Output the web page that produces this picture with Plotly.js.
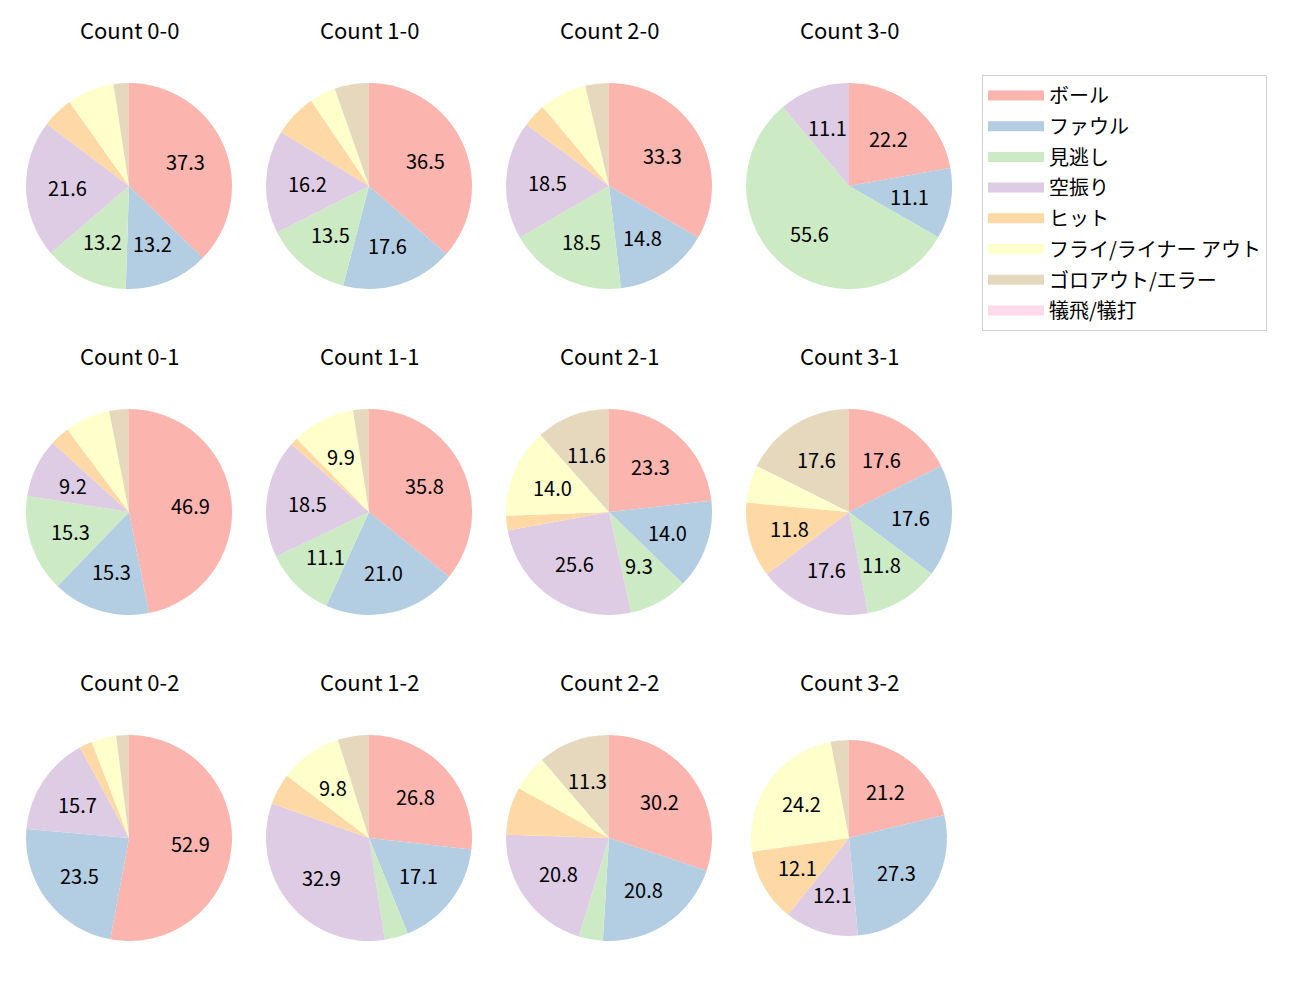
<!DOCTYPE html>
<html><head><meta charset="utf-8">
<script src="https://cdn.plot.ly/plotly-3.0.1.min.js"></script>
<style>body{margin:0;background:#fff}</style>
</head><body><div id="chart" style="width:1300px;height:1000px"></div>
<script>
const categories = ['ボール','ファウル','見逃し','空振り','ヒット','フライ/ライナー アウト','ゴロアウト/エラー','犠飛/犠打'];
const colors = ['#fbb4ae','#b3cde3','#ccebc5','#decbe4','#fed9a6','#ffffcc','#e5d8bd','#fddaec'];
const countTitles = ['Count 0-0','Count 1-0','Count 2-0','Count 3-0','Count 0-1','Count 1-1','Count 2-1','Count 3-1','Count 0-2','Count 1-2','Count 2-2','Count 3-2'];
const count00 = [37.3,13.2,13.2,21.6,4.9,7.4,2.4,0];
const count10 = [36.5,17.6,13.5,16.2,6.8,4.1,5.4,0];
const count20 = [33.3,14.8,18.5,18.5,3.7,7.4,3.7,0];
const count30 = [22.2,11.1,55.6,11.1,0,0,0,0];
const count01 = [46.9,15.3,15.3,9.2,3.1,7.1,3.1,0];
const count11 = [35.8,21.0,11.1,18.5,1.2,9.9,2.5,0];
const count21 = [23.3,14.0,9.3,25.6,2.3,14.0,11.6,0];
const count31 = [17.6,17.6,11.8,17.6,11.8,5.9,17.6,0];
const count02 = [52.9,23.5,0,15.7,2.0,3.9,2.0,0];
const count12 = [26.8,17.1,3.7,32.9,4.9,9.8,4.9,0];
const count22 = [30.2,20.8,3.8,20.8,7.5,5.7,11.3,0];
const count32 = [21.2,27.3,0,12.1,12.1,24.2,3.0,0];

const allCounts = [count00,count10,count20,count30,count01,count11,count21,count31,count02,count12,count22,count32];
const W = 1300, H = 1000;
const FONT = '"Noto Sans CJK JP", "Noto Sans", sans-serif';
const FS = 20, TFS = 22;
const colCenters = [129, 369, 609, 849];
const rowCenters = [186, 512, 838];
const titleOffset = 157;
const labelDist = 0.6;

const traces = [];
const annotations = [];
allCounts.forEach((vals, i) => {
  const c = i % 4, r = Math.floor(i / 4);
  const cx = colCenters[c], cy = rowCenters[r];
  const rad = (i === 11) ? 98 : 103;
  traces.push({
    type: 'pie',
    labels: categories,
    values: vals,
    textinfo: 'none',
    sort: false,
    direction: 'clockwise',
    rotation: 0,
    marker: {colors: colors, line: {width: 0}},
    showlegend: false,
    hoverinfo: 'label+value',
    domain: {x: [(cx - rad) / W, (cx + rad) / W], y: [1 - (cy + rad) / H, 1 - (cy - rad) / H]}
  });
  // percentage labels, placed like matplotlib autopct (0.6 of radius on slice bisector)
  const total = vals.reduce((a, b) => a + b, 0);
  let cum = 0;
  vals.forEach(v => {
    const pct = v / total * 100;
    const mid = 2 * Math.PI * (cum + v / 2) / total;
    cum += v;
    if (pct < 8) return;
    const px = cx + labelDist * rad * Math.sin(mid);
    const py = cy - labelDist * rad * Math.cos(mid);
    annotations.push({
      text: pct.toFixed(1), xref: 'paper', yref: 'paper',
      x: px / W, y: 1 - py / H, xanchor: 'center', yanchor: 'middle',
      showarrow: false, font: {family: FONT, size: FS, color: '#000'}
    });
  });
  annotations.push({
    text: countTitles[i], xref: 'paper', yref: 'paper',
    x: cx / W, y: 1 - (cy - titleOffset) / H,
    xanchor: 'center', yanchor: 'middle', showarrow: false,
    font: {family: FONT, size: TFS, color: '#000'}
  });
});

categories.forEach((name, k) => {
  traces.push({
    type: 'scatter', mode: 'lines', x: [0], y: [0], name: name,
    legendgroup: 'g' + k, showlegend: true, hoverinfo: 'skip',
    line: {color: colors[k], width: 14}
  });
});

const layout = {
  width: W, height: H,
  margin: {l: 0, r: 0, t: 0, b: 0},
  paper_bgcolor: '#fff', plot_bgcolor: 'rgba(0,0,0,0)',
  xaxis: {visible: false, range: [1, 2], fixedrange: true},
  yaxis: {visible: false, range: [1, 2], fixedrange: true},
  showlegend: true,
  legend: {
    x: 982 / W, y: 1 - 75 / H, xanchor: 'left', yanchor: 'top',
    bordercolor: '#d0d0d0', borderwidth: 1, bgcolor: '#fff',
    font: {family: FONT, size: FS, color: '#000'},
    tracegroupgap: 1.7, itemwidth: 56, traceorder: 'grouped'
  },
  annotations: annotations
};
Plotly.newPlot('chart', traces, layout, {staticPlot: true});
</script></body></html>
